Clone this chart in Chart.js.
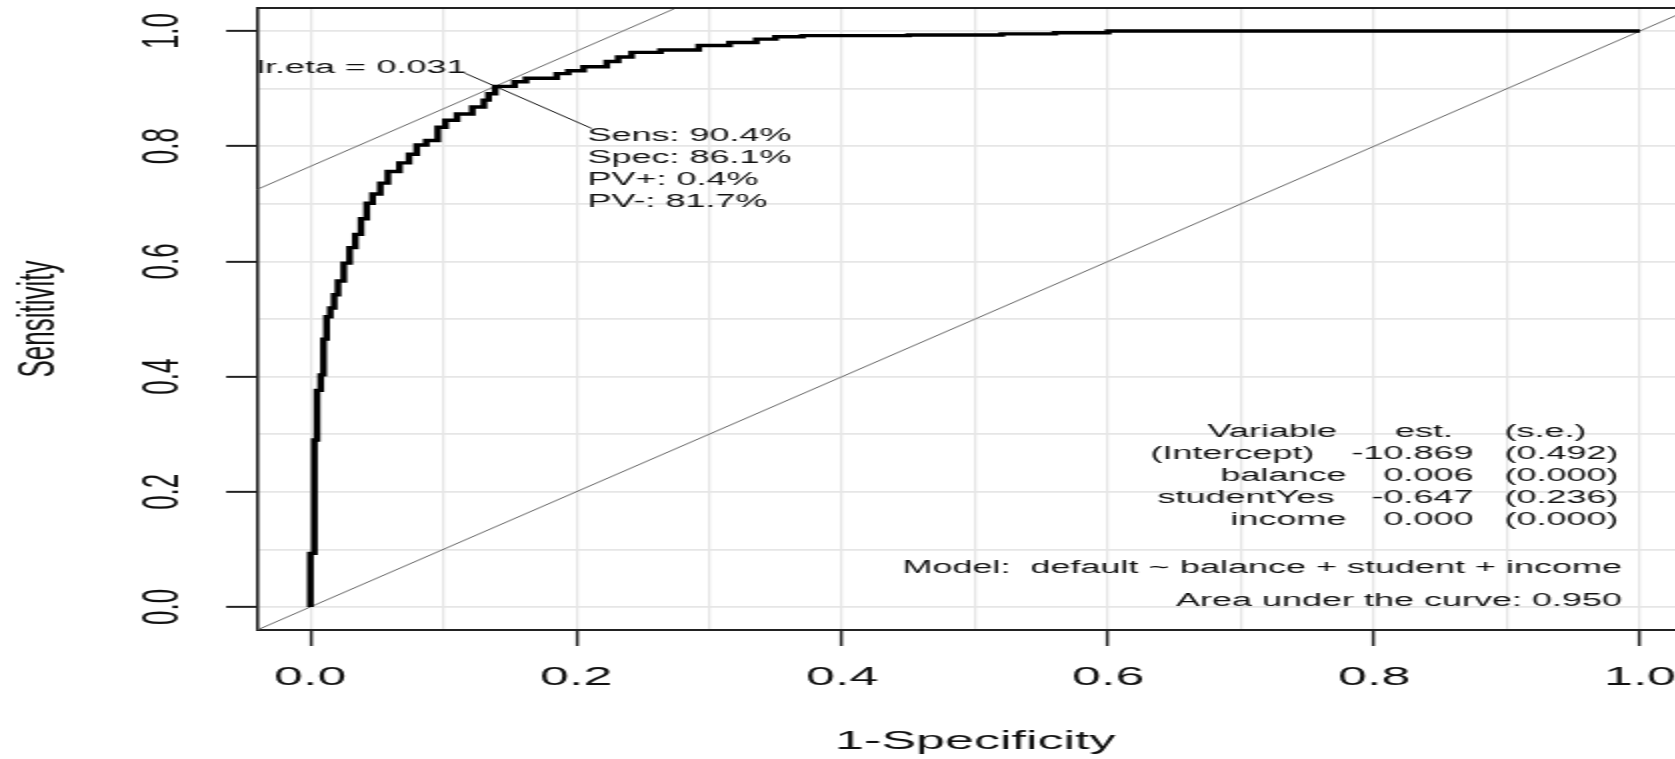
<!DOCTYPE html>
<html>
<head>
<meta charset="utf-8">
<title>ROC curve</title>
<script src="https://cdn.jsdelivr.net/npm/chart.js@4.4.1/dist/chart.umd.min.js"></script>
<style>
  html, body { margin: 0; padding: 0; overflow: hidden; background: #fff; width: 1675px; height: 759px; }
  /* the source picture is stretched about 2x sideways, so the canvas is too */
  #wrap { width: 850px; height: 759px; transform: scaleX(2); transform-origin: 0 0; }
  #roc { display: block; }
</style>
</head>
<body>
<div id="wrap"><canvas id="roc" width="850" height="759"></canvas></div>
<script>
// ROC curve: 1-specificity and sensitivity
const fpr = [0, 0, 0.003, 0.005, 0.0078, 0.0099, 0.0122, 0.015, 0.0179, 0.0208,
  0.0251, 0.0295, 0.0338, 0.0381, 0.0424, 0.0468, 0.0526, 0.0583, 0.067, 0.0742,
  0.08, 0.0872, 0.0958, 0.1016, 0.1103, 0.1218, 0.1305, 0.134, 0.139, 0.1536,
  0.1622, 0.1853, 0.194, 0.2055, 0.2229, 0.2315, 0.2416, 0.2633, 0.2921, 0.3152,
  0.3354, 0.3498, 0.37, 0.45, 0.52, 0.56, 0.6, 1.0];
const sens = [0, 0.093, 0.29, 0.376, 0.403, 0.465, 0.504, 0.519, 0.542, 0.566,
  0.597, 0.624, 0.647, 0.674, 0.701, 0.717, 0.736, 0.756, 0.771, 0.786,
  0.802, 0.81, 0.833, 0.845, 0.856, 0.868, 0.88, 0.891, 0.904, 0.912,
  0.918, 0.926, 0.931, 0.938, 0.947, 0.955, 0.963, 0.967, 0.975, 0.98,
  0.986, 0.99, 0.992, 0.993, 0.995, 0.997, 1.0, 1.0];

// reference lines (both slope 1)
const diagX = [-0.1, 1.1];
const diagY = [-0.1, 1.1];
const tangentX = [-0.1, 0.4];
const tangentY = [0.665, 1.165];

// pointer from the lr.eta label through the optimal point to the stats
const pointerX = [0.116, 0.139, 0.2115];
const pointerY = [0.927, 0.904, 0.831];

const axisTicks = [0, 0.2, 0.4, 0.6, 0.8, 1.0];
const tickLabels = ["0.0", "0.2", "0.4", "0.6", "0.8", "1.0"];

const etaLabel = "lr.eta = 0.031";
const optLabels = ["Sens: 90.4%", "Spec: 86.1%", "PV+: 0.4%", "PV-: 81.7%"];

const coefHeader = ["Variable", "est.", "(s.e.)"];
const coefNames = ["(Intercept)", "balance", "studentYes", "income"];
const coefEst = ["-10.869", "0.006", "-0.647", "0.000"];
const coefSE = ["(0.492)", "(0.000)", "(0.236)", "(0.000)"];
const modelText = "Model:  default ~ balance + student + income";
const aucText = "Area under the curve: 0.950";

const pts = (xs, ys) => xs.map((v, i) => ({ x: v, y: ys[i] }));
const isMajor = (v) => axisTicks.some((t) => Math.abs(t - v) < 1e-6);
const labelFor = (v) => {
  const i = axisTicks.findIndex((t) => Math.abs(t - v) < 1e-6);
  return i >= 0 ? tickLabels[i] : "";
};

const FONT = '"Liberation Sans", Arial, sans-serif';
Chart.defaults.font.family = FONT;
Chart.defaults.color = "#111";

// text inside the plot, placed in data units like R's text()
const notes = {
  id: "notes",
  afterDatasetsDraw(chart) {
    const { ctx, chartArea: a, scales: { x, y } } = chart;
    ctx.save();

    // rest of the box
    ctx.strokeStyle = "#222";
    ctx.lineWidth = 2;
    ctx.beginPath();
    ctx.moveTo(a.left, a.top);
    ctx.lineTo(a.right, a.top);
    ctx.stroke();
    ctx.lineWidth = 1.6;
    ctx.beginPath();
    ctx.moveTo(a.right, a.top);
    ctx.lineTo(a.right, a.bottom);
    ctx.stroke();

    ctx.font = "18px " + FONT;
    ctx.fillStyle = "#111";
    ctx.textBaseline = "middle";

    ctx.textAlign = "left";
    ctx.fillText(etaLabel, x.getPixelForValue(-0.04), y.getPixelForValue(0.935));
    optLabels.forEach((t, i) => {
      ctx.fillText(t, x.getPixelForValue(0.2083), y.getPixelForValue(0.818 - i * 0.0385));
    });

    // coefficient table
    const estRight = x.getPixelForValue(0.8748);
    const seLeft = x.getPixelForValue(0.898);
    const gap = 18.5;
    let yy = y.getPixelForValue(0.303);
    ctx.textAlign = "right";
    ctx.fillText(coefHeader[0], x.getPixelForValue(0.772), yy);
    ctx.textAlign = "left";
    ctx.fillText(coefHeader[1], x.getPixelForValue(0.8157), yy);
    ctx.fillText(coefHeader[2], seLeft, yy);
    coefNames.forEach((n, i) => {
      yy = y.getPixelForValue(0.265 - i * 0.038);
      const w = ctx.measureText(coefEst[i]).width;
      ctx.textAlign = "right";
      ctx.fillText(n, estRight - w - gap, yy);
      ctx.fillText(coefEst[i], estRight, yy);
      ctx.textAlign = "left";
      ctx.fillText(coefSE[i], seLeft, yy);
    });

    ctx.textAlign = "right";
    ctx.fillText(modelText, x.getPixelForValue(0.9865), y.getPixelForValue(0.067));
    ctx.fillText(aucText, x.getPixelForValue(0.9865), y.getPixelForValue(0.011));
    ctx.restore();
  }
};

const thin = (color) => ({
  borderColor: color,
  borderWidth: 1,
  pointRadius: 0,
  fill: false
});

new Chart(document.getElementById("roc"), {
  type: "line",
  data: {
    datasets: [
      {
        data: pts(fpr, sens),
        borderColor: "#000",
        borderWidth: 3.4,
        stepped: "before",
        pointRadius: 0,
        fill: false
      },
      { data: pts(pointerX, pointerY), ...thin("#111") },
      { data: pts(tangentX, tangentY), ...thin("#666") },
      { data: pts(diagX, diagY), ...thin("#666") }
    ]
  },
  options: {
    responsive: false,
    animation: false,
    events: [],
    layout: { padding: { left: 0, right: 3.4, top: 8, bottom: 0 } },
    plugins: { legend: { display: false }, tooltip: { enabled: false } },
    scales: {
      x: {
        type: "linear",
        min: -0.04,
        max: 1.04,
        afterFit(s) {
          s.height = 129;
          s.paddingLeft = 0;
          s.paddingRight = 0;
        },
        border: { color: "#222", width: 2 },
        grid: {
          color: "#e6e6e6",
          lineWidth: 1.3,
          tickLength: 16,
          tickWidth: 1.5,
          tickColor: (c) => (c.tick && isMajor(c.tick.value) ? "#222" : "rgba(0,0,0,0)")
        },
        ticks: {
          stepSize: 0.1,
          includeBounds: false,
          autoSkip: false,
          maxRotation: 0,
          padding: 16.7,
          font: { size: 26 },
          color: "#111",
          callback: labelFor
        },
        title: {
          display: true,
          text: "1-Specificity",
          font: { size: 26 },
          color: "#111",
          padding: { top: 0, bottom: 2 }
        }
      },
      y: {
        type: "linear",
        min: -0.04,
        max: 1.04,
        afterFit(s) {
          s.width = 128.6;
          s.paddingTop = 0;
          s.paddingBottom = 0;
        },
        border: { color: "#222", width: 1.6 },
        grid: {
          color: "#e6e6e6",
          lineWidth: 1.7,
          tickLength: 15.5,
          tickWidth: 2,
          tickColor: (c) => (c.tick && isMajor(c.tick.value) ? "#222" : "rgba(0,0,0,0)")
        },
        ticks: {
          stepSize: 0.1,
          includeBounds: false,
          autoSkip: false,
          minRotation: 90,
          maxRotation: 90,
          crossAlign: "center",
          padding: 13.3,
          font: { size: 26 },
          color: "#111",
          callback: labelFor
        },
        title: {
          display: true,
          text: "Sensitivity",
          font: { size: 26 },
          color: "#111",
          padding: { top: 4.4, bottom: 0 }
        }
      }
    }
  },
  plugins: [notes]
});
</script>
</body>
</html>
